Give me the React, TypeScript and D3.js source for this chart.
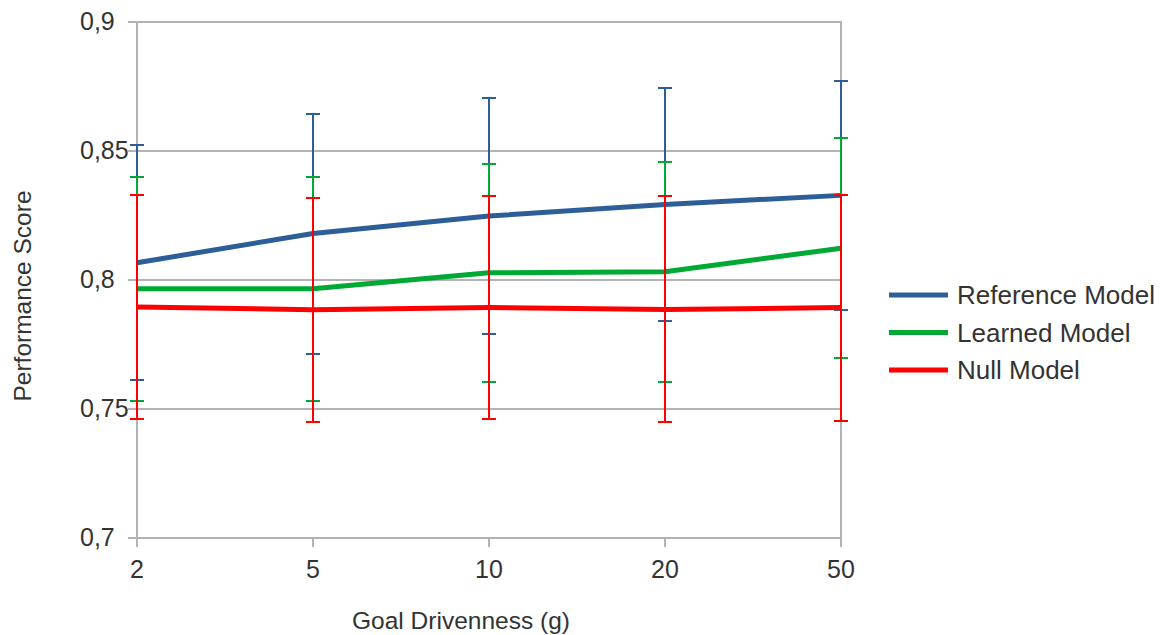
import React from "react";
import * as d3 from "d3";

// Goal drivenness settings on the x axis
const categories = ["2", "5", "10", "20", "50"];

// Mean performance score per model
const referenceMean = [0.8067, 0.818, 0.8248, 0.8293, 0.8328];
const learnedMean = [0.7966, 0.7966, 0.8028, 0.8032, 0.8123];
const nullMean = [0.7895, 0.7885, 0.7893, 0.7886, 0.7893];

// Error bar half-widths per model
const referenceErr = [0.0456, 0.0465, 0.0458, 0.0453, 0.0445];
const learnedErr = [0.0434, 0.0434, 0.0423, 0.0427, 0.0426];
const nullErr = [0.0434, 0.0434, 0.0431, 0.0438, 0.0438];

const yTicks = [0.7, 0.75, 0.8, 0.85, 0.9];

const seriesNames = ["Reference Model", "Learned Model", "Null Model"];
const seriesColors = ["#2d5e98", "#00a933", "#ff0000"];

const W = 1165;
const H = 635;
const FONT = "'Liberation Sans', Arial, sans-serif";

export default function App() {
  const x = d3
    .scalePoint<string>()
    .domain(categories)
    .range([137, 841]);
  const y = d3.scaleLinear().domain([0.7, 0.9]).range([538, 22]);

  const series = [
    { name: seriesNames[0], color: seriesColors[0], mean: referenceMean, err: referenceErr },
    { name: seriesNames[1], color: seriesColors[1], mean: learnedMean, err: learnedErr },
    { name: seriesNames[2], color: seriesColors[2], mean: nullMean, err: nullErr },
  ];

  const line = d3
    .line<number>()
    .x((_, i) => x(categories[i]) as number)
    .y((d) => y(d));

  const [x0, x1] = x.range();
  const capHalf = 7;
  const fmt = (v: number) => String(+v.toFixed(2)).replace(".", ",");

  return (
    <svg
      width={W}
      height={H}
      style={{ position: "absolute", left: 0, top: 0, background: "#fff" }}
      fontFamily={FONT}
    >
      {/* horizontal grid lines and y ticks */}
      {yTicks.map((t) => (
        <g key={t}>
          <line x1={x0 - 9} x2={x1} y1={y(t)} y2={y(t)} stroke="#b3b3b3" strokeWidth={2} />
          <text x={80} y={y(t) + 8} fontSize={25} fill="#333">
            {fmt(t)}
          </text>
        </g>
      ))}
      {/* y axis line and right border */}
      <line x1={x0} x2={x0} y1={y(0.9)} y2={y(0.7) + 9} stroke="#b3b3b3" strokeWidth={2} />
      <line x1={x1} x2={x1} y1={y(0.9) - 1} y2={y(0.7) + 9} stroke="#b3b3b3" strokeWidth={2} />
      {/* x ticks */}
      {categories.map((c) => (
        <g key={c}>
          <line
            x1={x(c)}
            x2={x(c)}
            y1={y(0.7)}
            y2={y(0.7) + 9}
            stroke="#b3b3b3"
            strokeWidth={2}
          />
          <text x={x(c)} y={578} textAnchor="middle" fontSize={25} fill="#333">
            {c}
          </text>
        </g>
      ))}

      {/* series lines */}
      {series.map((s) => (
        <path
          key={s.name}
          d={line(s.mean) || ""}
          fill="none"
          stroke={s.color}
          strokeWidth={5}
          strokeLinejoin="round"
        />
      ))}

      {/* error bars */}
      {series.map((s) => (
        <g key={s.name + "-err"} stroke={s.color} strokeWidth={2} shapeRendering="crispEdges">
          {categories.map((c, i) => {
            const cx = x(c) as number;
            const hi = Math.round(y(s.mean[i] + s.err[i]));
            const lo = Math.round(y(s.mean[i] - s.err[i]));
            return (
              <g key={c}>
                <line x1={cx} x2={cx} y1={hi} y2={lo} />
                <line x1={cx - capHalf} x2={cx + capHalf} y1={hi} y2={hi} />
                <line x1={cx - capHalf} x2={cx + capHalf} y1={lo} y2={lo} />
              </g>
            );
          })}
        </g>
      ))}

      {/* axis titles */}
      <text
        transform={`translate(31, 296) rotate(-90)`}
        textAnchor="middle"
        fontSize={24.5}
        fill="#333"
      >
        Performance Score
      </text>
      <text x={461} y={629} textAnchor="middle" fontSize={24.5} fill="#333">
        Goal Drivenness (g)
      </text>

      {/* legend */}
      {series.map((s, i) => (
        <g key={s.name + "-legend"} transform={`translate(0, ${295 + i * 37.5})`}>
          <line x1={889} x2={948} y1={0} y2={0} stroke={s.color} strokeWidth={5} />
          <text x={957} y={9} fontSize={26} fill="#333">
            {s.name}
          </text>
        </g>
      ))}
    </svg>
  );
}
